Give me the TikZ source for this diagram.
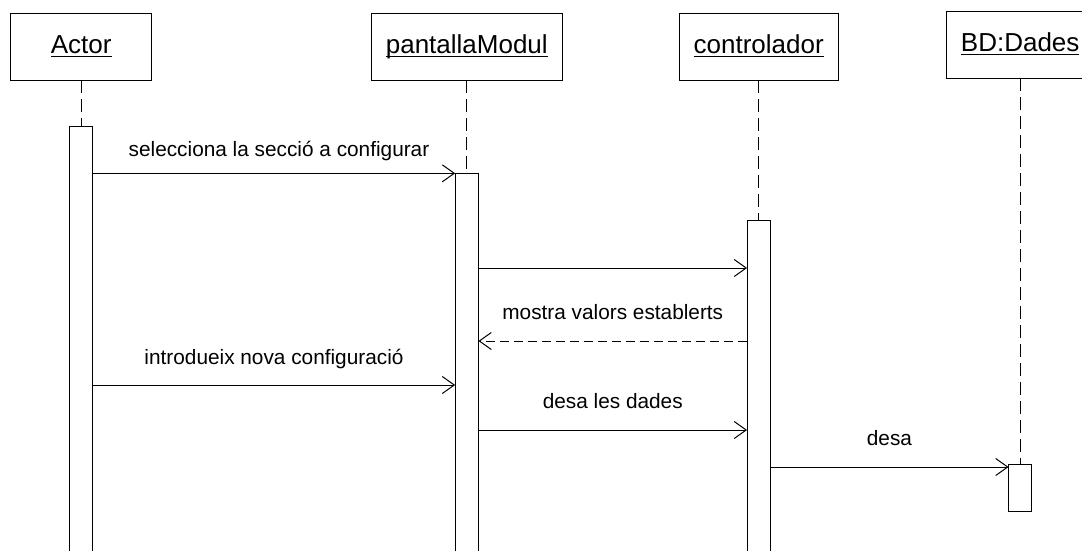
\documentclass[tikz,border=0pt]{standalone}
\usepackage{fontspec}
\setmainfont{Liberation Sans}
\usetikzlibrary{positioning, arrows.meta}

\newsavebox{\objbox}
\newcommand{\objname}[1]{\sbox{\objbox}{#1}\usebox{\objbox}\llap{\rule[-3.9pt]{\wd\objbox}{1pt}}}

\begin{document}
\begin{tikzpicture}[x=1pt, y=-1pt, line width=1pt,
        >={Straight Barb[length=12pt, width=17pt]},
        obj/.style={draw, rectangle, minimum height=66.7pt, inner sep=0pt, outer sep=0pt,
            text height=18pt, text depth=4.5pt, font=\fontsize{26}{30}\selectfont},
        bar/.style={draw, rectangle, fill=white, minimum width=23.3pt, inner sep=0pt, outer sep=0pt},
        life/.style={dash pattern=on 13pt off 6pt},
        reply/.style={dash pattern=on 9pt off 5pt},
        msg/.style={anchor=base, yshift=22pt, font=\fontsize{20.8}{24}\selectfont}]
        \useasboundingbox[fill=white] (0,0) rectangle (1082,550);

        \node[obj, minimum width=141pt] (B1) at (81.2,46.7) {\objname{Actor}};
        \node[obj, minimum width=191pt, right=219.6pt of B1] (B2) {\objname{pantallaModul}};
        \node[obj, minimum width=159pt, right=116.9pt of B2] (B3) {\objname{controlador}};
        \node[obj, minimum width=147pt, right=108.5pt of B3, yshift=2pt] (B4) {\objname{BD:Dades}};

        \node[bar, minimum height=430pt, below=46.7pt of B1] (A1) {};
        \node[bar, minimum height=385pt, below=93.3pt of B2] (A2) {};
        \node[bar, minimum height=340pt, below=140.7pt of B3] (A3) {};
        \node[bar, minimum height=47pt, below=386pt of B4] (A4) {};

        \draw[life] (B1) -- (A1);
        \draw[life] (B2) -- (A2);
        \draw[life] (B3) -- (A3);
        \draw[life] (B4) -- (A4);

        \coordinate (m1) at (0,173.3);
        \coordinate (m2) at (0,268);
        \coordinate (m3) at (0,341);
        \coordinate (m4) at (0,385);
        \coordinate (m5) at (0,430);
        \coordinate (m6) at (0,467);

        \draw (A1.east |- m1) edge[->] node[msg, yshift=-5pt, xshift=5pt]
        {selecciona la secció a configurar} (A2.west |- m1);
        \draw (A2.east |- m2) edge[->] (A3.west |- m2);
        \draw (A3.west |- m3) edge[->, reply] node[msg] {mostra valors establerts} (A2.east |- m3);
        \draw (A1.east |- m4) edge[->] node[msg, yshift=-1pt] {introdueix nova configuració} (A2.west |- m4);
        \draw (A2.east |- m5) edge[->] node[msg] {desa les dades} (A3.west |- m5);
        \draw (A3.east |- m6) edge[->] node[msg] {desa} (A4.west |- m6);

    \end{tikzpicture}
\end{document}
